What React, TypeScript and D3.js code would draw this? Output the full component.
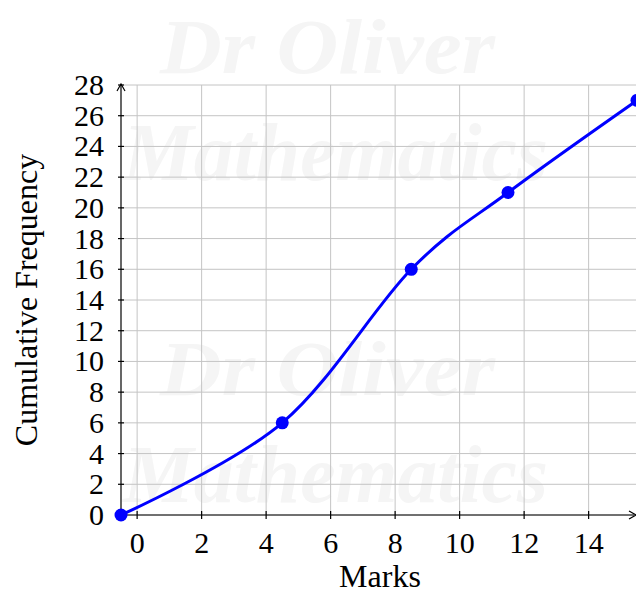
import React from "react";
import * as d3 from "d3";

const marks = [-0.5, 4.5, 8.5, 11.5, 15.5];
const cumFreq = [0, 6, 16, 21, 27];
const xTicks = [0, 2, 4, 6, 8, 10, 12, 14];
const yTicks = [0, 2, 4, 6, 8, 10, 12, 14, 16, 18, 20, 22, 24, 26, 28];
const xLabel = "Marks";
const yLabel = "Cumulative Frequency";
const watermark = ["Dr Oliver", "Mathematics"];

const W = 636;
const H = 593;

export default function App() {
  const x = d3.scaleLinear().domain([-0.5, 15.5]).range([121, 637]);
  const y = d3.scaleLinear().domain([0, 28]).range([515, 85]);
  const pts = marks.map((m, i) => [m, cumFreq[i]] as [number, number]);
  const line = d3
    .line<[number, number]>()
    .x((d) => x(d[0]))
    .y((d) => y(d[1]))
    .curve(d3.curveCardinal.tension(0));
  const font = "'Liberation Serif', 'Times New Roman', serif";
  const wmFont = "'Liberation Serif', serif";
  const wmColor = "#f5f5f5";
  return (
    <svg
      width={W}
      height={H}
      style={{ position: "absolute", left: 0, top: 0, background: "#fff" }}
    >
      <rect x={0} y={0} width={W} height={H} fill="#fff" />
      {[0, 322].map((off, k) => (
        <g key={k} fill={wmColor} fontFamily={wmFont} fontStyle="italic" fontWeight="bold">
          <text x={160} y={73 + off} fontSize={78} textLength={335} lengthAdjust="spacingAndGlyphs">
            {watermark[0]}
          </text>
          <text x={123} y={180 + off} fontSize={82} textLength={425} lengthAdjust="spacingAndGlyphs">
            {watermark[1]}
          </text>
        </g>
      ))}
      <g stroke="#c4c4c4" strokeWidth={1}>
        {xTicks.map((t) => (
          <line key={"gx" + t} x1={x(t)} x2={x(t)} y1={y(0)} y2={y(28)} />
        ))}
        {yTicks.map((t) => (
          <line key={"gy" + t} x1={x(-0.5)} x2={W} y1={y(t)} y2={y(t)} />
        ))}
      </g>
      <g stroke="#000" strokeWidth={1.2}>
        <line x1={x(-0.5)} x2={W - 2} y1={y(0)} y2={y(0)} />
        <line x1={x(-0.5)} x2={x(-0.5)} y1={y(0)} y2={y(28) - 1} />
        {xTicks.map((t) => (
          <line key={"tx" + t} x1={x(t)} x2={x(t)} y1={y(0) - 4} y2={y(0) + 4} />
        ))}
        {yTicks.map((t) => (
          <line key={"ty" + t} x1={x(-0.5) - 3} x2={x(-0.5) + 3} y1={y(t)} y2={y(t)} />
        ))}
      </g>
      <path
        d={`M${W - 7},${y(0) - 4} L${W},${y(0)} L${W - 7},${y(0) + 4}`}
        fill="none"
        stroke="#000"
        strokeWidth={1.2}
      />
      <path
        d={`M${x(-0.5) - 4},${y(28) + 6} L${x(-0.5)},${y(28) - 1} L${x(-0.5) + 4},${y(28) + 6}`}
        fill="none"
        stroke="#000"
        strokeWidth={1.2}
      />
      <path d={line(pts) || ""} fill="none" stroke="#0000ff" strokeWidth={3} />
      {pts.map((p, i) => (
        <circle key={i} cx={x(p[0])} cy={y(p[1])} r={6.5} fill="#0000ff" />
      ))}
      <g fontFamily={font} fontSize={30} fill="#000">
        {xTicks.map((t) => (
          <text key={"lx" + t} x={x(t)} y={553} textAnchor="middle">
            {t}
          </text>
        ))}
        {yTicks.map((t) => (
          <text key={"ly" + t} x={104} y={y(t) + 10} textAnchor="end">
            {t}
          </text>
        ))}
        <text x={380} y={587} textAnchor="middle" fontSize={32}>
          {xLabel}
        </text>
        <text transform="translate(37,300) rotate(-90)" textAnchor="middle" fontSize={32}>
          {yLabel}
        </text>
      </g>
    </svg>
  );
}
